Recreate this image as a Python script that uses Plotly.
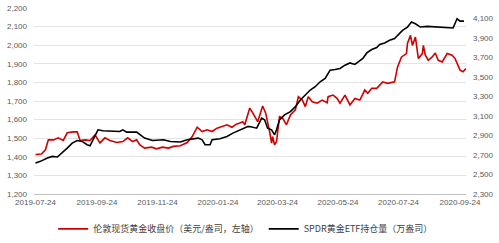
import plotly.graph_objects as go

gold_dates = ["2019-07-24","2019-07-30","2019-08-03","2019-08-06","2019-08-11","2019-08-16","2019-08-21","2019-08-25",
"2019-08-31","2019-09-04","2019-09-07","2019-09-12","2019-09-17","2019-09-22","2019-09-27","2019-10-02","2019-10-07",
"2019-10-14","2019-10-20","2019-10-25","2019-10-30","2019-11-03","2019-11-06","2019-11-11","2019-11-18","2019-11-23",
"2019-11-29","2019-12-05","2019-12-10","2019-12-17","2019-12-24","2019-12-29","2020-01-03","2020-01-08","2020-01-13",
"2020-01-18","2020-01-23","2020-01-28","2020-02-02","2020-02-07","2020-02-12","2020-02-15","2020-02-18","2020-02-20",
"2020-02-25","2020-02-28","2020-03-04","2020-03-09","2020-03-12","2020-03-16","2020-03-18","2020-03-19","2020-03-21",
"2020-03-23","2020-03-26","2020-03-29","2020-04-02","2020-04-06","2020-04-11","2020-04-14","2020-04-18","2020-04-21",
"2020-04-24","2020-04-28","2020-05-03","2020-05-08","2020-05-13","2020-05-14","2020-05-19","2020-05-23","2020-05-26",
"2020-05-31","2020-06-05","2020-06-10","2020-06-15","2020-06-20","2020-06-23","2020-06-27","2020-07-02","2020-07-08",
"2020-07-13","2020-07-20","2020-07-23","2020-07-27","2020-08-01","2020-08-02","2020-08-05","2020-08-07","2020-08-10",
"2020-08-13","2020-08-17","2020-08-18","2020-08-20","2020-08-23","2020-08-27","2020-08-30","2020-09-02","2020-09-06",
"2020-09-11","2020-09-16","2020-09-19","2020-09-24","2020-09-27","2020-09-30"]
gold_price = [1412,1415,1438,1491,1491,1502,1488,1529,
1534,1534,1488,1491,1488,1518,1475,1502,1488,
1477,1482,1502,1482,1491,1465,1447,1452,1443,
1452,1447,1456,1459,1477,1509,1559,1536,1545,
1536,1554,1563,1572,1559,1577,1582,1589,1572,
1662,1636,1589,1673,1636,1536,1474,1509,1465,
1482,1616,1609,1572,1625,1652,1723,1705,1670,
1723,1696,1688,1705,1691,1723,1732,1714,1688,
1732,1679,1714,1705,1759,1741,1768,1768,1803,
1795,1803,1883,1937,1955,2009,2053,1999,2044,
1928,1955,1999,1946,1919,1937,1958,1919,1910,
1955,1946,1928,1866,1857,1875]

etf_dates = ["2019-07-24","2019-07-29","2019-08-05","2019-08-10","2019-08-15","2019-08-20","2019-08-25","2019-08-30",
"2019-09-04","2019-09-09","2019-09-14","2019-09-17","2019-09-22","2019-09-25","2019-09-30","2019-10-10","2019-10-17",
"2019-10-20","2019-10-24","2019-11-03","2019-11-08","2019-11-11","2019-11-19","2019-11-30","2019-12-07","2019-12-17",
"2019-12-24","2020-01-04","2020-01-08","2020-01-11","2020-01-16","2020-01-18","2020-01-26","2020-02-02","2020-02-08",
"2020-02-15","2020-02-23","2020-02-25","2020-03-03","2020-03-08","2020-03-11","2020-03-14","2020-03-18","2020-03-21",
"2020-03-23","2020-03-26","2020-03-31","2020-04-06","2020-04-11","2020-04-16","2020-04-21","2020-04-26","2020-05-01",
"2020-05-06","2020-05-11","2020-05-16","2020-05-21","2020-05-26","2020-05-31","2020-06-05","2020-06-10","2020-06-13",
"2020-06-18","2020-06-22","2020-06-27","2020-07-02","2020-07-05","2020-07-10","2020-07-15","2020-07-20","2020-07-23",
"2020-07-28","2020-08-02","2020-08-06","2020-08-10","2020-08-15","2020-08-22","2020-09-04","2020-09-14","2020-09-17",
"2020-09-21","2020-09-24","2020-09-28"]
etf_holdings = [2618,2634,2669,2685,2679,2720,2770,2821,
2848,2838,2804,2794,2889,2957,2947,2947,2940,
2957,2933,2933,2896,2872,2848,2855,2838,2832,
2855,2872,2855,2804,2804,2855,2865,2889,2923,
2953,2990,2990,2974,3076,3059,2974,2957,2906,
2957,3059,3110,3143,3194,3262,3313,3364,3398,
3449,3483,3568,3575,3585,3619,3642,3626,3652,
3687,3744,3779,3799,3830,3846,3873,3891,3924,
3975,4009,4060,4043,4009,4016,4009,4003,3999,
4094,4070,4070]

x_ticks = ["2019-07-24","2019-09-24","2019-11-24","2020-01-24","2020-03-24","2020-05-24","2020-07-24","2020-09-24"]
left_ticks = list(range(1200, 2201, 100))
right_ticks = list(range(2300, 4101, 200))

name_gold = "伦敦现货黄金收盘价（美元/盎司，左轴）"
name_etf = "SPDR黄金ETF持仓量（万盎司）"

fig = go.Figure()
fig.add_trace(go.Scatter(x=gold_dates, y=gold_price, name=name_gold, mode="lines",
                         line=dict(color="#D00000", width=1.6)))
fig.add_trace(go.Scatter(x=etf_dates, y=etf_holdings, name=name_etf, mode="lines", yaxis="y2",
                         line=dict(color="#000000", width=1.6)))

tickfont = dict(family="Liberation Sans, Arial", size=8, color="#595959")
fig.update_layout(
    width=499, height=243,
    margin=dict(l=34, r=33, t=7.5, b=48.5, autoexpand=False),
    paper_bgcolor="white", plot_bgcolor="white",
    font=dict(family="Noto Sans CJK SC", size=9, color="#404040"),
    xaxis=dict(range=["2019-07-22 12:00", "2020-09-30"], tickvals=x_ticks, ticktext=x_ticks,
               showgrid=False, showline=True, linecolor="#BFBFBF", linewidth=1,
               ticks="", tickfont=tickfont, zeroline=False),
    yaxis=dict(range=[1200, 2200], tickvals=left_ticks, tickformat=",", showgrid=True,
               gridcolor="#E3E3E3", gridwidth=1, tickfont=tickfont, zeroline=False, ticks="",
               ticklabelstandoff=6),
    yaxis2=dict(range=[2300, 4204], tickvals=right_ticks, tickformat=",", overlaying="y", side="right",
                showgrid=False, tickfont=tickfont, zeroline=False, ticks="", ticklabelstandoff=6),
    legend=dict(orientation="h", x=0.49, xanchor="center", yref="container", y=0.058, yanchor="middle",
                font=dict(family="Noto Sans CJK SC", size=9, color="#404040"),
                itemwidth=30, tracegroupgap=0),
    showlegend=True,
)
fig.write_html("out.html")
